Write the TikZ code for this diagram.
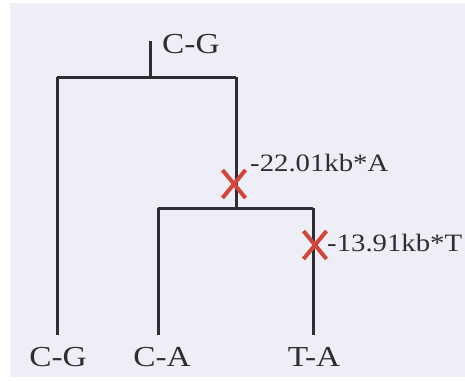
\documentclass[tikz,border=0pt]{standalone}
\usepackage{fontspec}
\setmainfont{Liberation Serif}[FakeStretch=1.15]
\usetikzlibrary{shapes.misc}

\definecolor{paper}{RGB}{238,238,246}
\definecolor{branchgray}{RGB}{45,45,50}
\definecolor{mutred}{RGB}{212,70,58}

\begin{document}
\begin{tikzpicture}[
    x=1pt, y=-1pt,
    branch/.style={
        draw,
        line width=3pt,
        color=branchgray
    },
    mutation/.style={
        cross out,
        draw=mutred,
        line width=4pt,
        minimum width=19pt,
        minimum height=24pt,
        inner sep=0pt
    },
    taxon/.style={
        font=\fontsize{29}{31}\selectfont,
        text=branchgray,
        inner sep=0pt
    },
    note/.style={
        font=\fontsize{25}{27}\selectfont,
        text=branchgray,
        anchor=west,
        inner sep=0pt
    }
]

    % --- Background ---
    \useasboundingbox (0,0) rectangle (465,380);
    \fill[white] (0,0) rectangle (465,380);
    \fill[paper] (10,3) rectangle (465,377);

    % --- Nodes ---

    % Root and inner branch points
    \coordinate (root) at (150,41);
    \coordinate (top) at (150,77);
    \coordinate (topL) at (57,77);
    \coordinate (topR) at (236,77);
    \coordinate (mid) at (236,208);
    \coordinate (midL) at (158,208);
    \coordinate (midR) at (313,208);

    % Leaf ends
    \coordinate (leafA) at (57,335);
    \coordinate (leafB) at (158,335);
    \coordinate (leafC) at (313,335);

    % Labels
    \node [taxon, anchor=west] (rootlab) at (162,44) {C-G};
    \node [taxon] (labA) at (58,357) {C-G};
    \node [taxon] (labB) at (162,357) {C-A};
    \node [taxon] (labC) at (314,357) {T-A};

    % --- Connections ---
    \path [branch] (root) -- (top);
    \path [branch] (topL) -- (topR);
    \path [branch] (topL) -- (leafA);
    \path [branch] (topR) -- (mid);
    \path [branch] (midL) -- (midR);
    \path [branch] (midL) -- (leafB);
    \path [branch] (midR) -- (leafC);

    % --- Mutations ---
    \node [mutation] (mutA) at (234,184) {};
    \node [note] at (250,163) {-22.01kb*A};
    \node [mutation] (mutT) at (315,245) {};
    \node [note] at (327,243) {-13.91kb*T};

\end{tikzpicture}
\end{document}
